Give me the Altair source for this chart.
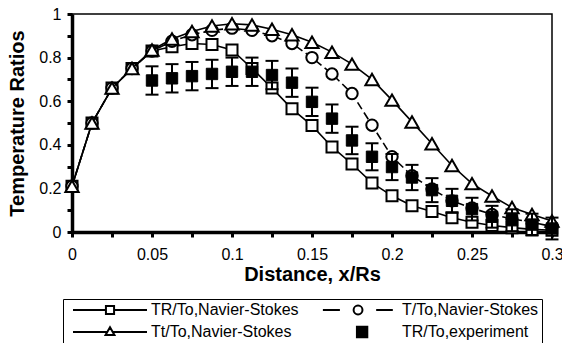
import altair as alt
import pandas as pd

FONT = "Liberation Sans"

# ---------------- data ----------------
x_pos = [0.0, 0.0125, 0.025, 0.0375, 0.05, 0.0625, 0.075, 0.0875, 0.1, 0.1125,
         0.125, 0.1375, 0.15, 0.1625, 0.175, 0.1875, 0.2, 0.2125, 0.225, 0.2375,
         0.25, 0.2625, 0.275, 0.2875, 0.3]

tr_ns = [0.21, 0.50, 0.66, 0.75, 0.83, 0.85, 0.865, 0.86, 0.835, 0.75,
         0.66, 0.565, 0.488, 0.39, 0.312, 0.225, 0.166, 0.12, 0.094, 0.065,
         0.045, 0.03, 0.02, 0.012, 0.008]

t_ns = [0.21, 0.50, 0.66, 0.75, 0.83, 0.875, 0.905, 0.925, 0.935, 0.925,
        0.90, 0.865, 0.80, 0.725, 0.635, 0.49, 0.345, 0.258, 0.197, 0.143,
        0.11, 0.08, 0.06, 0.045, 0.025]

tt_ns = [0.21, 0.50, 0.66, 0.75, 0.835, 0.885, 0.92, 0.945, 0.955, 0.95,
         0.93, 0.905, 0.87, 0.825, 0.77, 0.70, 0.605, 0.505, 0.405, 0.305,
         0.222, 0.165, 0.112, 0.08, 0.05]

x_exp = [0.05, 0.0625, 0.075, 0.0875, 0.1, 0.1125, 0.125, 0.1375, 0.15, 0.1625,
         0.175, 0.1875, 0.2, 0.2125, 0.225, 0.2375, 0.25, 0.2625, 0.275, 0.2875, 0.3]
tr_exp = [0.695, 0.705, 0.715, 0.725, 0.735, 0.735, 0.72, 0.685, 0.597, 0.52,
          0.42, 0.345, 0.298, 0.25, 0.192, 0.143, 0.105, 0.07, 0.054, 0.034, 0.016]
tr_exp_err = [0.065, 0.065, 0.065, 0.065, 0.065, 0.065, 0.065, 0.065, 0.065, 0.065,
              0.063, 0.062, 0.06, 0.058, 0.055, 0.055, 0.052, 0.05, 0.05, 0.05, 0.05]

series_names = ["TR/To,Navier-Stokes", "T/To,Navier-Stokes",
                "Tt/To,Navier-Stokes", "TR/To,experiment"]

x_tick_values = [0.0, 0.025, 0.05, 0.075, 0.1, 0.125, 0.15, 0.175, 0.2, 0.225, 0.25, 0.275, 0.3]
y_tick_values = [0.0, 0.1, 0.2, 0.3, 0.4, 0.5, 0.6, 0.7, 0.8, 0.9, 1.0]

# ---------------- tables ----------------
ns = pd.DataFrame({"x": x_pos, "TR": tr_ns, "T": t_ns, "Tt": tt_ns})
exp = pd.DataFrame({"x": x_exp, "y": tr_exp, "err": tr_exp_err})
exp["lo"] = exp["y"] - exp["err"]
exp["hi"] = exp["y"] + exp["err"]
legend_df = pd.DataFrame({"series": series_names})

# ---------------- scales / axes ----------------
xscale = alt.Scale(domain=[0, 0.3], nice=False, zero=False)
yscale = alt.Scale(domain=[0, 1], nice=False, zero=False)

x_axis = alt.Axis(
    values=x_tick_values,
    labelExpr="round(datum.value*40) % 2 == 0 ? format(datum.value, '~g') : ''",
    labelFlush=False, labelFont=FONT, labelFontSize=16, labelColor="black",
    labelPadding=9, tickSize=5, tickWidth=3, tickColor="black",
    domainColor="black", domainWidth=3.5, grid=False,
    title="Distance, x/Rs", titleFont=FONT, titleFontSize=20, titleFontWeight="bold",
    titleColor="black", titlePadding=2,
)
y_axis = alt.Axis(
    values=y_tick_values,
    labelExpr="round(datum.value*10) % 2 == 0 ? format(datum.value, '~g') : ''",
    labelFont=FONT, labelFontSize=16, labelColor="black",
    labelPadding=6, tickSize=5, tickWidth=3, tickColor="black",
    domainColor="black", domainWidth=3.5, grid=False,
    title="Temperature Ratios", titleFont=FONT, titleFontSize=20, titleFontWeight="bold",
    titleColor="black", titlePadding=11,
)

X = alt.X("x:Q", scale=xscale, axis=x_axis)


def Y(field):
    return alt.Y(f"{field}:Q", scale=yscale, axis=y_axis)


base = alt.Chart(ns)

# TR/To Navier-Stokes: solid line + open squares
tr_line = base.mark_line(color="black", strokeWidth=1.6).encode(x=X, y=Y("TR"))
tr_pts = base.mark_point(shape="square", filled=True, fill="white", stroke="black",
                         strokeWidth=2, size=121, opacity=1).encode(x=X, y=Y("TR"))

# T/To Navier-Stokes: dashed line + open circles
t_line = base.mark_line(color="black", strokeWidth=1.6, strokeDash=[8, 4]).encode(x=X, y=Y("T"))
t_pts = base.mark_point(shape="circle", filled=True, fill="white", stroke="black",
                        strokeWidth=2, size=130, opacity=1).encode(x=X, y=Y("T"))

# Tt/To Navier-Stokes: solid line + open triangles
tt_line = base.mark_line(color="black", strokeWidth=1.6).encode(x=X, y=Y("Tt"))
tt_pts = base.mark_point(shape="triangle-up", filled=True, fill="white", stroke="black",
                         strokeWidth=2, size=175, opacity=1).encode(x=X, y=Y("Tt"))

# experiment: filled squares with error bars
eb = alt.Chart(exp)
err_rule = eb.mark_rule(color="black", strokeWidth=2).encode(x=X, y=Y("lo"), y2="hi:Q")
cap_lo = eb.mark_tick(color="black", orient="horizontal", size=13, thickness=2,
                      opacity=1).encode(x=X, y=Y("lo"))
cap_hi = eb.mark_tick(color="black", orient="horizontal", size=13, thickness=2,
                      opacity=1).encode(x=X, y=Y("hi"))
exp_pts = eb.mark_point(shape="square", filled=True, fill="black", stroke="black",
                        strokeWidth=1, size=130, opacity=1).encode(x=X, y=Y("y"))

# legend (custom symbols: line + marker); bare moveTo points keep equal extents
p_sq = "M-1,0H-0.11M0.11,0H1M-0.11,-0.11H0.11V0.11H-0.11Z"
p_ci = ("M-1.03,0H-0.57M0.41,0H0.86M-0.2,0A0.12,0.12 0 1,0 0.04,0"
        "A0.12,0.12 0 1,0 -0.2,0Z")
p_tri = "M-1,0H-0.074M0.074,0H1M0,-0.13L0.12,0.08H-0.12Z"
p_fsq = "M-1.03,0M0.86,0M-0.11,-0.14H0.17V0.14H-0.11Z"

leg = alt.Legend(
    title=None, orient="none", legendX=-9, legendY=285, columns=2,
    direction="horizontal", clipHeight=16,
    symbolSize=5476, symbolStrokeWidth=2, symbolStrokeColor="black",
    symbolOffset=6, labelOffset=3,
    labelExpr=("datum.label + ((datum.value == 'T/To,Navier-Stokes' || "
               "datum.value == 'TR/To,experiment') ? '     ' : '')"),
    labelFont=FONT, labelFontSize=16, labelColor="black", labelLimit=400,
    columnPadding=18, rowPadding=6, padding=3,
    strokeColor="black", fillColor="white",
)

legend_layer = alt.Chart(legend_df).transform_filter("false").mark_point(
    filled=True, strokeWidth=2, opacity=1
).encode(
    shape=alt.Shape("series:N", scale=alt.Scale(domain=series_names,
                                                range=[p_sq, p_ci, p_tri, p_fsq]),
                    legend=leg),
    fill=alt.Fill("series:N", scale=alt.Scale(domain=series_names,
                                              range=["white", "white", "white", "black"]),
                  legend=leg),
    stroke=alt.Stroke("series:N", scale=alt.Scale(domain=series_names,
                                                  range=["black", "black", "black", "black"]),
                      legend=leg),
)

chart = alt.layer(
    tr_line, tr_pts, t_line, t_pts, tt_line, tt_pts,
    err_rule, cap_lo, cap_hi, exp_pts, legend_layer,
).properties(
    width=480, height=218,
    autosize=alt.AutoSizeParams(type="none"),
    padding={"left": 72, "top": 14, "right": 10, "bottom": 111},
    background="white",
).configure_view(stroke="black", strokeWidth=1.5)

chart.save("out.html", embed_options={"renderer": "svg", "actions": False})
